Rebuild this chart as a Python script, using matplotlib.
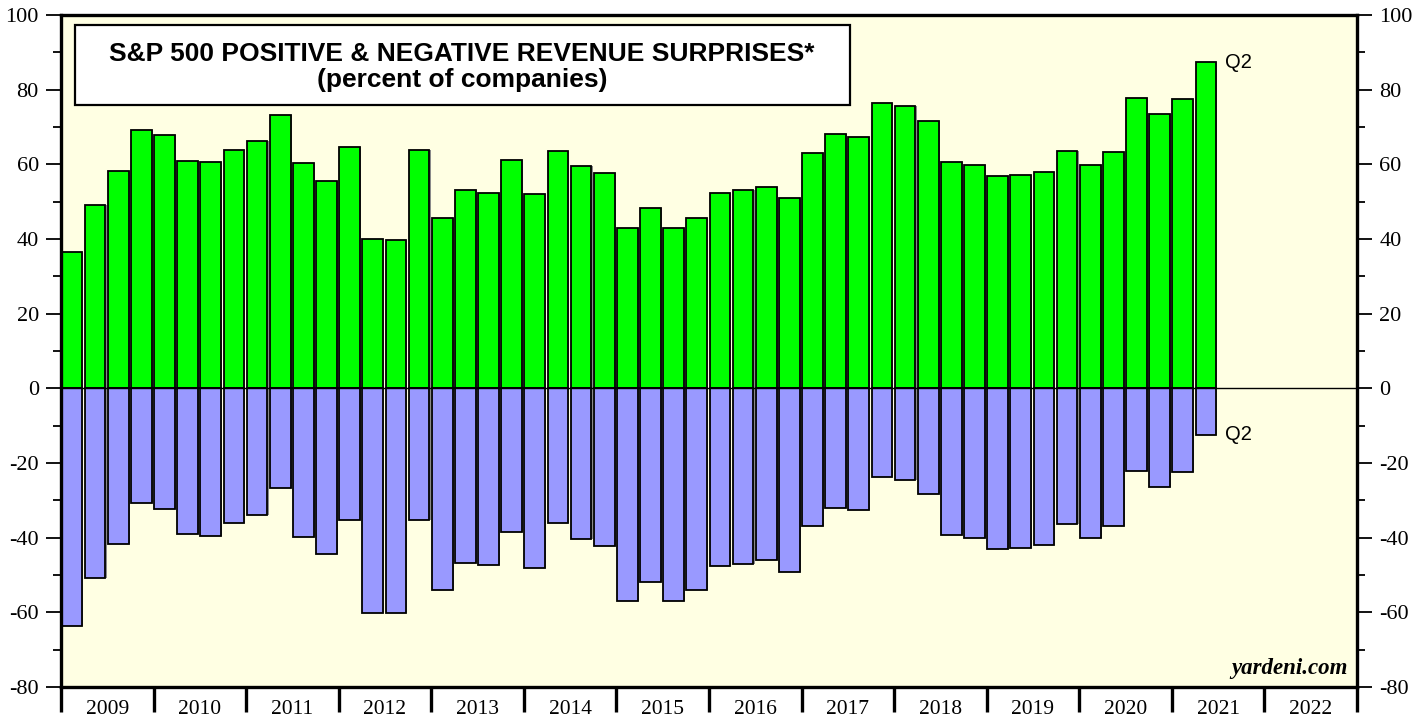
import matplotlib
matplotlib.use("Agg")
import matplotlib.pyplot as plt
import numpy as np
from matplotlib.patches import Rectangle
from matplotlib.ticker import MultipleLocator, FixedLocator, NullFormatter

plt.rcParams["axes.unicode_minus"] = False

# ---- data (quarterly, 2009Q1 .. 2021Q2) ----
positive = [36.5, 49.0, 58.2, 69.3,
            67.9, 60.9, 60.5, 63.8,
            66.2, 73.2, 60.3, 55.5,
            64.6, 40.0, 39.7, 63.8,
            45.6, 53.2, 52.4, 61.2,
            52.1, 63.6, 59.6, 57.8,
            43.0, 48.2, 42.9, 45.7,
            52.2, 53.0, 54.0, 50.9,
            63.0, 68.0, 67.4, 76.3,
            75.5, 71.7, 60.7, 59.8,
            56.9, 57.2, 57.9, 63.6,
            59.9, 63.2, 77.7, 73.6,
            77.5, 87.4]
negative = [-63.6, -50.7, -41.7, -30.6,
            -32.2, -39.1, -39.5, -36.2,
            -33.8, -26.8, -39.7, -44.5,
            -35.2, -60.1, -60.1, -35.4,
            -54.1, -46.8, -47.2, -38.6,
            -48.0, -36.2, -40.4, -42.2,
            -57.0, -51.8, -56.9, -54.1,
            -47.6, -47.0, -46.0, -49.1,
            -37.0, -32.0, -32.6, -23.8,
            -24.5, -28.2, -39.3, -40.1,
            -43.0, -42.8, -42.0, -36.4,
            -40.1, -36.8, -22.2, -26.4,
            -22.4, -12.5]
start_year = 2009
years = list(range(2009, 2023))
title_line1 = "S&P 500 POSITIVE & NEGATIVE REVENUE SURPRISES*"
title_line2 = "(percent of companies)"

W, H = 1427, 719
L, R, T, B = 61, 1357, 15, 687
fig = plt.figure(figsize=(W / 100, H / 100), dpi=100)
fig.patch.set_facecolor("white")
ax = fig.add_axes([L / W, 1 - B / H, (R - L) / W, (B - T) / H])
ax.set_facecolor("#FFFFE3")

n = len(positive)
x = start_year + np.arange(n) * 0.25 + 0.006
bw = 0.224
shadow_dx = 0.012

ax.bar(x + shadow_dx, positive, width=bw, align="edge",
       color="#8a8a8a", edgecolor="none", zorder=1)
ax.bar(x + shadow_dx, negative, width=bw, align="edge",
       color="#8a8a8a", edgecolor="none", zorder=1)
ax.bar(x, positive, width=bw, align="edge", color="#00FF00",
       edgecolor="black", linewidth=1.3, zorder=2)
ax.bar(x, negative, width=bw, align="edge", color="#9999FF",
       edgecolor="black", linewidth=1.3, zorder=2)

ax.axhline(0, color="black", linewidth=1.0, zorder=3)

ax.set_xlim(2009, 2023)
ax.set_ylim(-80, 100)

for s in ax.spines.values():
    s.set_linewidth(2.4)
    s.set_zorder(5)

ax.yaxis.set_major_locator(MultipleLocator(20))
ax.yaxis.set_minor_locator(MultipleLocator(10))
ax.tick_params(axis="y", which="major", direction="out", length=11, width=1.3,
               left=True, right=True, labelleft=True, labelright=True,
               labelsize=16, pad=5)
ax.tick_params(axis="y", which="minor", direction="out", length=6, width=1.3,
               left=True, right=True)
for lab in ax.get_yticklabels():
    lab.set_fontfamily("Liberation Serif")

ax.xaxis.set_major_locator(FixedLocator(years + [2023]))
ax.xaxis.set_major_formatter(NullFormatter())
ax.xaxis.set_minor_locator(FixedLocator([y + 0.5 for y in years]))
ax.set_xticklabels([str(y) for y in years], minor=True)
ax.tick_params(axis="x", which="major", direction="out", length=18, width=2.4,
               top=False)
ax.tick_params(axis="x", which="minor", length=0, labelsize=15.5, pad=9)
for lab in ax.get_xticklabels(minor=True):
    lab.set_fontfamily("Liberation Serif")

def ax_frac(px, py):
    return ((px - L) / (R - L), (B - py) / (B - T))

bx0, by0 = ax_frac(75, 105)
bx1, by1 = ax_frac(850, 25)
ax.add_patch(Rectangle((bx0, by0), bx1 - bx0, by1 - by0, transform=ax.transAxes,
                       facecolor="white", edgecolor="black", linewidth=1.6,
                       zorder=6))
cx, cy1 = ax_frac(462, 54)
_, cy2 = ax_frac(462, 80)
ax.text(cx, cy1, title_line1, transform=ax.transAxes, ha="center", va="center",
        fontsize=19, fontweight="bold", family="Liberation Sans", zorder=7)
ax.text(cx, cy2, title_line2, transform=ax.transAxes, ha="center", va="center",
        fontsize=19, fontweight="bold", family="Liberation Sans", zorder=7)

last_x = x[-1] + bw
ax.annotate("Q2", xy=(last_x, positive[-1]), xytext=(6, 0),
            textcoords="offset points", ha="left", va="center",
            fontsize=14.5, family="Liberation Sans", zorder=6)
ax.annotate("Q2", xy=(last_x, negative[-1]), xytext=(6, 0),
            textcoords="offset points", ha="left", va="center",
            fontsize=14.5, family="Liberation Sans", zorder=6)

ax.text(0.993, 0.012, "yardeni.com", transform=ax.transAxes,
        ha="right", va="bottom", fontsize=16.5, fontweight="bold",
        fontstyle="italic", family="Liberation Serif", zorder=6)

fig.savefig("out.png", dpi=100)
